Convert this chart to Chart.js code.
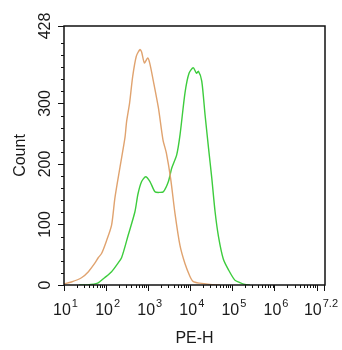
<!DOCTYPE html>
<html><head><meta charset="utf-8">
<script src="https://cdn.jsdelivr.net/npm/chart.js@4/dist/chart.umd.min.js"></script>
<style>html,body{margin:0;padding:0;background:#fff}canvas{display:block}</style>
</head><body>
<canvas id="c" width="342" height="350"></canvas>
<script>
// Orange (control) histogram: PE-H channel values and counts
const controlPE = [10,15,26,38,54,65,78,101,135,162,213,280,307,362,427,522,637,698,811,971,1084,1327,1746,2244,2704,3428,4335,5702,7499,9705,11614,16788,29040,50234];
const controlCount = [2,5,12,22,36,45,52,72,99,144,194,243,270,301,344,378,389,385,367,375,367,337,293,240,218,175,118,65,35,15,6,3,1,0];
// Green (stained) histogram
const stainedPE = [23,36,63,92,135,187,233,337,484,570,698,871,1102,1449,1875,2296,3020,3614,4754,5702,7499,9333,11749,13996,15631,18717,22439,27040,32359,38810,46774,60814,80910,114288,150314,197697,260016];
const stainedCount = [0,0,3,12,22,35,45,83,121,150,171,179,171,154,153,154,171,193,215,248,318,350,359,350,353,337,281,227,177,121,80,43,25,8,4,1,0];
// Axes
const yMajorTicks = [0,100,200,300,428];
const yMinorTicks = [20,40,60,80,120,140,160,180,220,240,260,280,320,340,360,380,400];
const xDecades = [1,2,3,4,5,6,7];
const xLabelExps = ['1','2','3','4','5','6','7.2'];
const xLabelVals = [1e1,1e2,1e3,1e4,1e5,1e6,Math.pow(10,7.2)];
const xTitle = 'PE-H';
const yTitle = 'Count';

const FONT = '"Liberation Sans", Arial, sans-serif';
const TXT = '#1a1a1a';

const axisPlugin = {
  id: 'axisPlugin',
  afterDraw(chart) {
    const {ctx, chartArea: a, scales: {x, y}} = chart;
    ctx.save();
    ctx.strokeStyle = '#111';
    ctx.lineWidth = 1.5;
    ctx.strokeRect(a.left, a.top, a.right - a.left, a.bottom - a.top);
    ctx.lineWidth = 1;
    ctx.beginPath();
    yMajorTicks.forEach(v => { const py = Math.round(y.getPixelForValue(v)) + 0.5; ctx.moveTo(a.left - 6, py); ctx.lineTo(a.left, py); });
    yMinorTicks.forEach(v => { const py = Math.round(y.getPixelForValue(v)) + 0.5; ctx.moveTo(a.left - 3, py); ctx.lineTo(a.left, py); });
    xDecades.forEach(d => {
      for (let m = 1; m <= 9; m++) {
        const v = m * Math.pow(10, d);
        if (v > x.max * 1.0001) continue;
        const px = Math.round(x.getPixelForValue(v)) + 0.5;
        ctx.moveTo(px, a.bottom); ctx.lineTo(px, a.bottom + (m === 1 ? 6 : 3));
      }
    });
    const pxEnd = Math.round(x.getPixelForValue(x.max)) - 0.5;
    ctx.moveTo(pxEnd, a.bottom); ctx.lineTo(pxEnd, a.bottom + 6);
    ctx.stroke();

    ctx.fillStyle = TXT;
    // y tick labels (rotated)
    ctx.font = '16px ' + FONT;
    ctx.textAlign = 'center';
    ctx.textBaseline = 'alphabetic';
    yMajorTicks.forEach(v => {
      const py = y.getPixelForValue(v);
      ctx.save(); ctx.translate(a.left - 14, py); ctx.rotate(-Math.PI / 2);
      ctx.fillText(String(v), 0, 0); ctx.restore();
    });
    // y title
    ctx.save(); ctx.translate(25, (a.top + a.bottom) / 2); ctx.rotate(-Math.PI / 2);
    ctx.fillText(yTitle, 0, 0); ctx.restore();
    // x tick labels with superscripts
    ctx.textAlign = 'left';
    xLabelVals.forEach((v, i) => {
      ctx.font = '16px ' + FONT; const w1 = ctx.measureText('10').width;
      ctx.font = '11px ' + FONT; const w2 = ctx.measureText(xLabelExps[i]).width;
      const tw = w1 + 1 + w2;
      let left = x.getPixelForValue(v) - tw / 2 + 1.5;
      if (left + tw > 338) left = 338 - tw;
      ctx.font = '16px ' + FONT; ctx.fillText('10', left, a.bottom + 30);
      ctx.font = '11px ' + FONT; ctx.fillText(xLabelExps[i], left + w1 + 1, a.bottom + 22);
    });
    // x title
    ctx.font = '16px ' + FONT; ctx.textAlign = 'center';
    ctx.fillText(xTitle, (a.left + a.right) / 2, a.bottom + 58);
    ctx.restore();
  }
};

new Chart(document.getElementById('c'), {
  type: 'line',
  data: {
    datasets: [
      { label: 'Control', data: controlPE.map((v, i) => ({x: v, y: controlCount[i]})),
        borderColor: '#E0A36F', borderWidth: 1.4, pointRadius: 0, tension: 0.25, fill: false },
      { label: 'Stained', data: stainedPE.map((v, i) => ({x: v, y: stainedCount[i]})),
        borderColor: '#3DCC3D', borderWidth: 1.4, pointRadius: 0, tension: 0.25, fill: false }
    ]
  },
  options: {
    responsive: false,
    animation: false,
    layout: { padding: { left: 64, right: 17, top: 26, bottom: 65 } },
    plugins: { legend: { display: false }, tooltip: { enabled: false } },
    scales: {
      x: { type: 'logarithmic', min: 10, max: Math.pow(10, 7.2), display: false },
      y: { type: 'linear', min: 0, max: 428, display: false }
    }
  },
  plugins: [axisPlugin]
});
</script>
</body></html>
